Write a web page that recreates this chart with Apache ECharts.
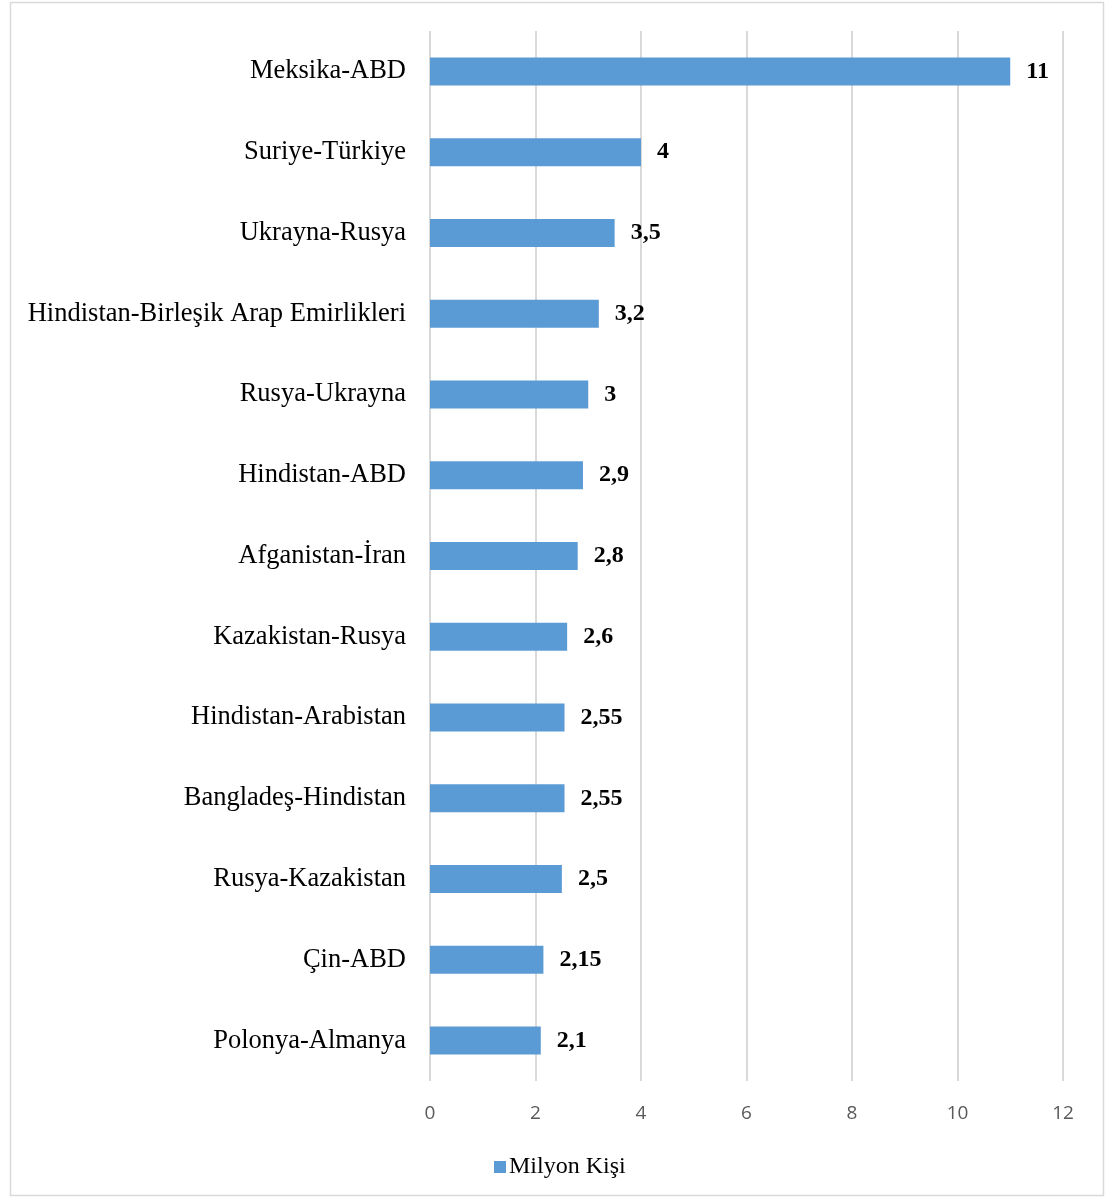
<!DOCTYPE html>
<html><head><meta charset="utf-8">
<script src="https://cdn.jsdelivr.net/npm/echarts@6/dist/echarts.min.js"></script>
<style>html,body{margin:0;padding:0;background:#fff}#c{width:1105px;height:1198px}</style>
</head><body><div id="c"></div>
<script>
const categories = ["Meksika-ABD","Suriye-Türkiye","Ukrayna-Rusya","Hindistan-Birleşik Arap Emirlikleri","Rusya-Ukrayna","Hindistan-ABD","Afganistan-İran","Kazakistan-Rusya","Hindistan-Arabistan","Bangladeş-Hindistan","Rusya-Kazakistan","Çin-ABD","Polonya-Almanya"];
const values = [11,4,3.5,3.2,3,2.9,2.8,2.6,2.55,2.55,2.5,2.15,2.1];
const seriesName = "Milyon Kişi";
const xTicks = [0,2,4,6,8,10,12];

const chart = echarts.init(document.getElementById('c'), null, {renderer:'canvas'});
chart.setOption({
  animation:false,
  backgroundColor:'#fff',
  graphic:[{type:'rect',shape:{x:10.5,y:2.5,width:1093,height:1193},style:{fill:'none',stroke:'#d9d9d9',lineWidth:1.5},silent:true,z:-1}],
  grid:{left:430,right:42,top:31,bottom:117,containLabel:false},
  legend:{data:[seriesName],left:489,top:1150,itemWidth:12,itemHeight:12,itemGap:6,icon:'rect',
    textStyle:{fontFamily:'Liberation Serif',fontSize:24,color:'#000',padding:[0,0,0,-2]}},
  xAxis:{type:'value',min:xTicks[0],max:xTicks[xTicks.length-1],interval:2,
    axisLine:{show:false},axisTick:{show:false},
    splitLine:{show:true,lineStyle:{color:'#d9d9d9',width:2}},
    axisLabel:{margin:23,fontFamily:'Open Sans',fontSize:19,color:'#595959'}},
  yAxis:{type:'category',data:categories,inverse:true,
    axisLine:{show:false},axisTick:{show:false},
    axisLabel:{margin:24,fontFamily:'Liberation Serif',fontSize:26.5,color:'#000',padding:[4,0,0,0]}},
  series:[{name:seriesName,type:'bar',data:values,barWidth:28,
    itemStyle:{color:'#5B9BD5'},
    label:{show:true,position:'right',distance:16,fontFamily:'Liberation Serif',fontWeight:'bold',fontSize:24,color:'#000',padding:[4,0,0,0],
      formatter:p=>String(p.value).replace('.',',')}}]
});
</script></body></html>
